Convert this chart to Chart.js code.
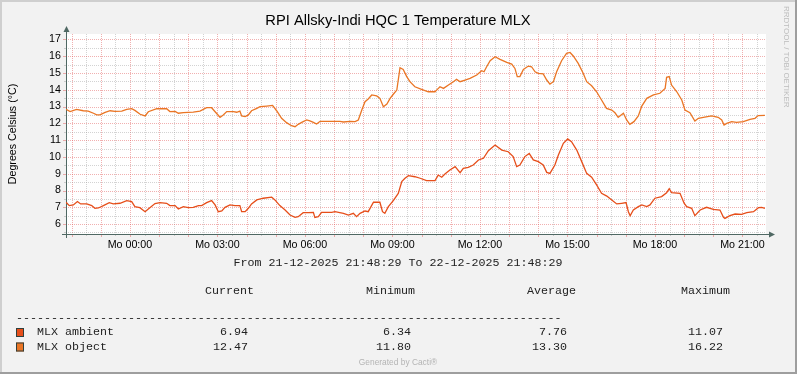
<!DOCTYPE html>
<html>
<head>
<meta charset="utf-8">
<script src="https://cdn.jsdelivr.net/npm/chart.js@4.4.1/dist/chart.umd.min.js"></script>
<style>
  html, body { margin: 0; padding: 0; background: #f2f2f2; }
  #wrap { width: 797px; height: 374px; }
</style>
</head>
<body>
<div id="wrap"><canvas id="chart" width="797" height="374"></canvas></div>
<script>
// time axis: hours relative to Mo 00:00 (graph runs 21-12-2025 21:48:29 .. 22-12-2025 21:48:29)
const startHour = -2.1919;
const endHour = 21.8081;
const xLabelHours = [0, 3, 6, 9, 12, 15, 18, 21];
const yTickValues = [6, 7, 8, 9, 10, 11, 12, 13, 14, 15, 16, 17];
const yMin = 5.41;
const yMax = 17.32;

// MLX ambient
const ambientHours = [
  -2.19, -2.08, -1.94, -1.8, -1.69, -1.48, -1.31, -1.2, -1.08, -0.91, -0.71, -0.57, -0.34, -0.11,
  0.06, 0.17, 0.34, 0.52, 0.63, 0.86, 1.03, 1.26, 1.37, 1.55, 1.66, 1.83, 2.0, 2.17, 2.35, 2.46,
  2.63, 2.8, 2.92, 3.03, 3.15, 3.26, 3.43, 3.6, 3.77, 3.83, 3.95, 4.06, 4.17, 4.35, 4.57, 4.86,
  4.97, 5.14, 5.32, 5.49, 5.66, 5.77, 5.94, 6.12, 6.29, 6.34, 6.46, 6.57, 6.92, 7.03, 7.32, 7.49,
  7.66, 7.77, 7.89, 8.06, 8.17, 8.35, 8.57, 8.66, 8.74, 8.86, 9.03, 9.2, 9.32, 9.43, 9.55,
  9.77, 9.95, 10.17, 10.46, 10.57, 10.69, 10.8, 10.97, 11.15, 11.32, 11.43, 11.6, 11.77, 11.95,
  12.12, 12.29, 12.52, 12.75, 12.97, 13.14, 13.26, 13.37, 13.54, 13.69, 13.83, 14.0, 14.17, 14.29,
  14.4, 14.57, 14.69, 14.86, 15.01, 15.14, 15.32, 15.49, 15.66, 15.83, 16.0, 16.17, 16.35, 16.52,
  16.69, 16.86, 17.01, 17.09, 17.15, 17.26, 17.43, 17.55, 17.72, 17.83, 18.0, 18.23, 18.4, 18.49,
  18.57, 18.86, 19.0, 19.09, 19.26, 19.37, 19.55, 19.77, 20.0, 20.23, 20.35, 20.4, 20.57, 20.75,
  20.97, 21.15, 21.38, 21.55, 21.66, 21.77
];
const ambientTemps = [
  7.30, 7.1, 7.14, 7.34, 7.2, 7.2, 7.1, 6.94, 6.96, 7.1, 7.28, 7.2, 7.24, 7.4,
  7.34, 7.04, 6.98, 6.74, 6.9, 7.22, 7.28, 7.24, 7.1, 7.1, 6.9, 7.04, 6.98, 7.0, 7.1, 7.1,
  7.28, 7.4, 7.14, 6.74, 6.78, 7.0, 7.14, 7.1, 7.1, 6.74, 6.74, 6.94, 7.2, 7.44, 7.54, 7.6,
  7.44, 7.1, 6.84, 6.54, 6.4, 6.44, 6.68, 6.68, 6.7, 6.4, 6.44, 6.7, 6.7, 6.74, 6.64, 6.54,
  6.64, 6.44, 6.64, 6.78, 6.74, 7.3, 7.3, 6.74, 6.64, 7.04, 7.4, 7.83, 8.53, 8.73, 8.88,
  8.82, 8.73, 8.59, 8.59, 8.92, 8.79, 8.98, 9.22, 9.42, 9.06, 9.32, 9.38, 9.52, 9.82,
  9.92, 10.37, 10.71, 10.41, 10.31, 10.02, 9.42, 9.52, 10.02, 10.21, 9.82, 9.72, 9.52, 9.08,
  9.02, 9.52, 10.11, 10.81, 11.07, 10.91, 10.41, 9.72, 9.02, 8.79, 8.33, 7.83, 7.67, 7.44,
  7.2, 7.24, 7.28, 6.74, 6.5, 6.84, 7.04, 7.14, 7.04, 7.14, 7.54, 7.64, 7.87, 8.11,
  7.87, 7.83, 7.24, 7.04, 6.94, 6.5, 6.84, 7.0, 6.88, 6.84, 6.4, 6.34, 6.5, 6.6,
  6.58, 6.68, 6.74, 6.98, 7.0, 6.94
];

// MLX object
const objectHours = [
  -2.19, -2.05, -1.83, -1.6, -1.43, -1.25, -1.14, -1.03, -0.85, -0.68, -0.51, -0.28, -0.11,
  0.06, 0.17, 0.35, 0.52, 0.63, 0.92, 1.26, 1.37, 1.55, 1.66, 1.83, 2.17, 2.4, 2.63, 2.8, 2.92,
  3.09, 3.2, 3.32, 3.55, 3.66, 3.77, 3.83, 3.95, 4.06, 4.17, 4.35, 4.46, 4.69, 4.89, 5.03, 5.2,
  5.37, 5.54, 5.66, 5.77, 5.89, 6.06, 6.17, 6.29, 6.4, 6.52, 6.74, 7.2, 7.32, 7.55, 7.72, 7.83,
  7.95, 8.06, 8.17, 8.29, 8.46, 8.57, 8.69, 8.81, 8.92, 9.03, 9.15, 9.26, 9.37, 9.49, 9.6,
  9.77, 10.0, 10.23, 10.46, 10.54, 10.63, 10.75, 10.92, 11.09, 11.2, 11.32, 11.49, 11.66, 11.89,
  12.06, 12.14, 12.23, 12.35, 12.52, 12.69, 12.92, 13.09, 13.2, 13.28, 13.37, 13.49, 13.66, 13.77,
  13.89, 14.0, 14.17, 14.29, 14.4, 14.52, 14.63, 14.8, 14.97, 15.09, 15.2, 15.37, 15.54, 15.66,
  15.83, 16.0, 16.17, 16.34, 16.52, 16.63, 16.74, 16.92, 17.03, 17.14, 17.28, 17.43, 17.55, 17.72,
  17.95, 18.17, 18.35, 18.4, 18.49, 18.57, 18.75, 18.92, 19.03, 19.2, 19.37, 19.49, 19.66, 19.94,
  20.17, 20.29, 20.37, 20.46, 20.63, 20.8, 21.03, 21.26, 21.43, 21.54, 21.77
];
const objectTemps = [
  12.83, 12.7, 12.83, 12.75, 12.73, 12.6, 12.5, 12.5, 12.65, 12.75, 12.71, 12.73, 12.83,
  12.87, 12.77, 12.54, 12.44, 12.69, 12.87, 12.87, 12.7, 12.71, 12.6, 12.64, 12.67, 12.73, 12.93, 12.93, 12.69,
  12.36, 12.5, 12.7, 12.7, 12.66, 12.73, 12.44, 12.4, 12.5, 12.75, 12.89, 12.99, 13.03, 13.07, 12.75, 12.3,
  12.04, 11.86, 11.8, 11.94, 12.06, 12.2, 12.14, 12.06, 11.96, 12.12, 12.12, 12.12, 12.08, 12.12, 12.1, 12.2,
  12.79, 13.29, 13.45, 13.69, 13.63, 13.49, 12.99, 13.15, 13.49, 13.73, 13.98, 15.31, 15.21, 14.78, 14.48,
  14.18, 14.02, 13.88, 13.88, 14.02, 14.18, 14.08, 14.28, 14.48, 14.62, 14.48, 14.58, 14.68, 14.88,
  15.13, 15.07, 15.37, 15.73, 15.97, 15.81, 15.63, 15.53, 15.27, 14.78, 14.78, 15.21, 15.41, 15.37,
  15.07, 14.98, 14.94, 14.58, 14.34, 14.48, 15.07, 15.73, 16.17, 16.22, 16.01, 15.57, 14.98, 14.48,
  14.24, 13.88, 13.39, 12.89, 12.79, 12.63, 12.36, 12.6, 12.2, 11.94, 12.1, 12.44, 13.03, 13.49,
  13.69, 13.79, 14.08, 14.74, 14.78, 14.28, 13.88, 13.39, 12.79, 12.63, 12.14, 12.3, 12.36, 12.44,
  12.36, 12.2, 11.9, 12.0, 12.1, 12.06, 12.1, 12.24, 12.3, 12.46, 12.47
];

// legend table
const seriesNames = ['MLX ambient', 'MLX object'];
const statCurrent = [6.94, 12.47];
const statMinimum = [6.34, 11.80];
const statAverage = [7.76, 13.30];
const statMaximum = [11.07, 16.22];

const AMBIENT_COLOR = '#E64E1A';
const OBJECT_COLOR = '#EA7524';
const SANS = '"Liberation Sans", Arial, sans-serif';
const MONO = '"Liberation Mono", "DejaVu Sans Mono", monospace';

function toPoints(hours, temps) {
    return hours.map((h, i) => ({ x: h, y: temps[i] }));
}

function pad2(n) {
    return String(n).padStart(2, '0');
}

const rrdPlugin = {
    id: 'rrd',
    beforeDraw(chart) {
        const ctx = chart.ctx;
        const w = chart.width, h = chart.height;
        const a = chart.chartArea;
        ctx.save();
        ctx.fillStyle = '#F2F2F2';
        ctx.fillRect(0, 0, w, h);
        ctx.fillStyle = '#CFCFCF';
        ctx.fillRect(0, 0, w, 2);
        ctx.fillRect(0, 0, 2, h);
        ctx.fillStyle = '#9E9E9E';
        ctx.fillRect(0, h - 2, w, 2);
        ctx.fillRect(w - 2, 0, 2, h);
        ctx.fillStyle = '#FFFFFF';
        ctx.fillRect(a.left, a.top, a.right - a.left, a.bottom - a.top);
        ctx.restore();
    },
    beforeDatasetsDraw(chart) {
        const ctx = chart.ctx;
        const a = chart.chartArea;
        const xs = chart.scales.x, ys = chart.scales.y;
        const minorCol = 'rgba(150,150,150,0.42)';
        const majorCol = 'rgba(225,80,80,0.45)';
        ctx.save();
        ctx.lineWidth = 1;

        // vertical grid: half hours grey, full hours red
        for (let v = Math.ceil(startHour * 2) / 2; v <= endHour; v += 0.5) {
            const px = Math.round(xs.getPixelForValue(v)) + 0.5;
            const major = Number.isInteger(v);
            ctx.strokeStyle = major ? majorCol : minorCol;
            ctx.setLineDash([1, 1]);
            ctx.beginPath();
            ctx.moveTo(px, a.top);
            ctx.lineTo(px, a.bottom);
            ctx.stroke();
            ctx.setLineDash([]);
            ctx.beginPath();
            ctx.moveTo(px, a.bottom);
            ctx.lineTo(px, a.bottom + (major ? 3 : 2));
            ctx.stroke();
        }
        // horizontal grid: 0.5 steps grey, integers red
        for (let v = Math.ceil(yMin * 2) / 2; v <= yMax; v += 0.5) {
            const py = Math.round(ys.getPixelForValue(v)) + 0.5;
            const major = Number.isInteger(v);
            ctx.strokeStyle = major ? majorCol : minorCol;
            ctx.setLineDash([1, 1]);
            ctx.beginPath();
            ctx.moveTo(a.left, py);
            ctx.lineTo(a.right, py);
            ctx.stroke();
            ctx.setLineDash([]);
            ctx.beginPath();
            ctx.moveTo(a.left - (major ? 3 : 2), py);
            ctx.lineTo(a.left, py);
            ctx.stroke();
        }

        // axes with arrows
        const axisCol = '#4F6863';
        const ax = a.left + 0.5, ay = a.bottom + 0.5;
        ctx.strokeStyle = axisCol;
        ctx.fillStyle = axisCol;
        ctx.beginPath();
        ctx.moveTo(a.left - 4, ay);
        ctx.lineTo(a.right + 4, ay);
        ctx.moveTo(ax, a.bottom + 4);
        ctx.lineTo(ax, a.top - 3);
        ctx.stroke();
        ctx.beginPath();
        ctx.moveTo(a.right + 3, ay - 3);
        ctx.lineTo(a.right + 9, ay);
        ctx.lineTo(a.right + 3, ay + 3);
        ctx.closePath();
        ctx.fill();
        ctx.beginPath();
        ctx.moveTo(ax - 3, a.top - 2);
        ctx.lineTo(ax, a.top - 8);
        ctx.lineTo(ax + 3, a.top - 2);
        ctx.closePath();
        ctx.fill();
        ctx.restore();
    },
    afterDraw(chart) {
        const ctx = chart.ctx;
        const a = chart.chartArea;
        ctx.save();
        ctx.fillStyle = '#000';

        // title
        ctx.font = '14.7px ' + SANS;
        ctx.textAlign = 'center';
        ctx.textBaseline = 'middle';
        ctx.fillText('RPI Allsky-Indi HQC 1 Temperature MLX', 398, 21);

        // vertical axis title
        ctx.save();
        ctx.translate(13, (a.top + a.bottom) / 2);
        ctx.rotate(-Math.PI / 2);
        ctx.font = '10.7px ' + SANS;
        ctx.fillText('Degrees Celsius (°C)', 0, 0);
        ctx.restore();

        // watermark
        ctx.save();
        ctx.translate(786, 6);
        ctx.rotate(Math.PI / 2);
        ctx.font = '8px ' + SANS;
        ctx.fillStyle = '#BDBDBD';
        ctx.textAlign = 'left';
        ctx.fillText('RRDTOOL / TOBI OETIKER', 0, 0);
        ctx.restore();

        // legend table
        ctx.font = '11.67px ' + MONO;
        ctx.fillStyle = '#222';
        ctx.textAlign = 'center';
        ctx.fillText('From 21-12-2025 21:48:29 To 22-12-2025 21:48:29', 398, 263);
        ctx.textAlign = 'left';
        ctx.fillText('Current', 205, 291);
        ctx.fillText('Minimum', 366, 291);
        ctx.fillText('Average', 527, 291);
        ctx.fillText('Maximum', 681, 291);
        ctx.fillText('-'.repeat(78), 16, 318);

        const colors = [AMBIENT_COLOR, OBJECT_COLOR];
        const stats = [statCurrent, statMinimum, statAverage, statMaximum];
        const statRight = [248, 411, 567, 723];
        seriesNames.forEach((name, i) => {
            const y = 332 + i * 14.5;
            ctx.fillStyle = colors[i];
            ctx.fillRect(16, y - 4, 8, 9);
            ctx.strokeStyle = '#2F3F3C';
            ctx.lineWidth = 1;
            ctx.strokeRect(16.5, y - 3.5, 7, 8);
            ctx.fillStyle = '#222';
            ctx.textAlign = 'left';
            ctx.fillText(name, 37, y);
            ctx.textAlign = 'right';
            stats.forEach((col, j) => ctx.fillText(col[i].toFixed(2), statRight[j], y));
        });

        ctx.textAlign = 'center';
        ctx.font = '8.4px ' + SANS;
        ctx.fillStyle = '#B4B4B4';
        ctx.fillText('Generated by Cacti®', 398, 363);
        ctx.restore();
    }
};

new Chart(document.getElementById('chart'), {
    type: 'line',
    data: {
        datasets: [
            {
                label: seriesNames[0],
                data: toPoints(ambientHours, ambientTemps),
                borderColor: AMBIENT_COLOR,
                borderWidth: 1.3,
                pointRadius: 0,
                tension: 0,
                fill: false
            },
            {
                label: seriesNames[1],
                data: toPoints(objectHours, objectTemps),
                borderColor: OBJECT_COLOR,
                borderWidth: 1.3,
                pointRadius: 0,
                tension: 0,
                fill: false
            }
        ]
    },
    options: {
        responsive: false,
        animation: false,
        devicePixelRatio: 1,
        layout: { padding: { left: 0, right: 31, top: 34, bottom: 0 } },
        plugins: { legend: { display: false }, tooltip: { enabled: false } },
        scales: {
            x: {
                type: 'linear',
                min: startHour,
                max: endHour,
                grid: { display: false, drawTicks: false },
                border: { display: false },
                afterBuildTicks: s => { s.ticks = xLabelHours.map(v => ({ value: v })); },
                afterFit: s => { s.height = 140; },
                ticks: {
                    autoSkip: false,
                    maxRotation: 0,
                    padding: 5,
                    color: '#000',
                    font: { family: SANS, size: 10.7 },
                    callback: v => 'Mo ' + pad2(v) + ':00'
                }
            },
            y: {
                type: 'linear',
                min: yMin,
                max: yMax,
                grid: { display: false, drawTicks: false },
                border: { display: false },
                afterBuildTicks: s => { s.ticks = yTickValues.map(v => ({ value: v })); },
                afterFit: s => { s.width = 66; },
                ticks: {
                    padding: 5,
                    color: '#000',
                    font: { family: SANS, size: 10.7 },
                    callback: v => String(v)
                }
            }
        }
    },
    plugins: [rrdPlugin]
});
</script>
</body>
</html>
